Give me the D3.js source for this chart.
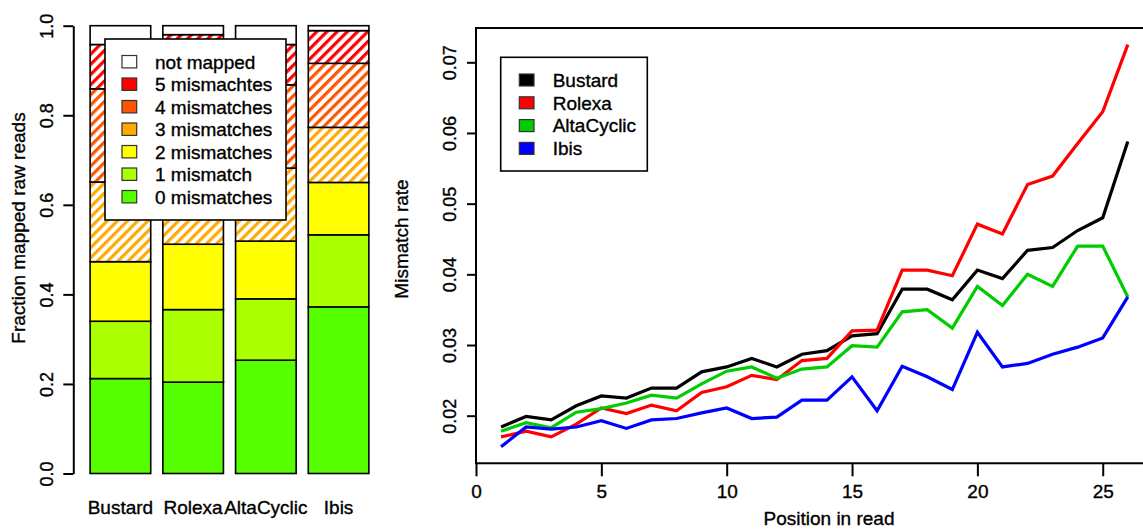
<!DOCTYPE html>
<html>
<head>
<meta charset="utf-8">
<script src="https://cdn.jsdelivr.net/npm/d3@7"></script>
<style>
  body { margin: 0; background: #fff; }
  svg { display: block; font-family: "Liberation Sans", Arial, Helvetica, sans-serif; }
  svg text { stroke: #000; stroke-width: 0.35px; fill: #000; }
</style>
</head>
<body>
<script>
// ---------- Data: left chart (stacked fractions) ----------
const categories = ["Bustard", "Rolexa", "AltaCyclic", "Ibis"];
const segmentKeys = ["m0", "m1", "m2", "m3", "m4", "m5", "nm"];
const segmentLabels = ["0 mismatches", "1 mismatch", "2 mismatches", "3 mismatches", "4 mismatches", "5 mismachtes", "not mapped"];
const segmentColors = ["#55FF00", "#AAFF00", "#FFFF00", "#FFAA00", "#FF5500", "#FF0000", "#FFFFFF"];
const segmentHatched = [false, false, false, true, true, true, false];
const mm0 = [0.212, 0.204, 0.253, 0.372];
const mm1 = [0.128, 0.162, 0.137, 0.161];
const mm2 = [0.133, 0.146, 0.129, 0.117];
const mm3 = [0.178, 0.150, 0.163, 0.123];
const mm4 = [0.208, 0.210, 0.186, 0.143];
const mm5 = [0.099, 0.108, 0.090, 0.073];
const notMapped = [0.042, 0.020, 0.042, 0.011];
const leftTicks = [0, 0.2, 0.4, 0.6, 0.8, 1.0];

// ---------- Data: right chart (mismatch rate by position) ----------
const positions = [1,2,3,4,5,6,7,8,9,10,11,12,13,14,15,16,17,18,19,20,21,22,23,24,25,26];
const seriesNames = ["Bustard", "Rolexa", "AltaCyclic", "Ibis"];
const seriesColors = ["#000000", "#FF0000", "#00CD00", "#0000FF"];
const bustard = [0.0184,0.0199,0.0194,0.0214,0.0228,0.0225,0.0239,0.0239,0.0262,0.0269,0.0281,0.0269,0.0287,0.0292,0.0313,0.0316,0.0379,0.0379,0.0364,0.0406,0.0394,0.0434,0.0438,0.0462,0.0480,0.0588];
const rolexa = [0.0170,0.0178,0.0170,0.0188,0.0211,0.0203,0.0215,0.0207,0.0233,0.0241,0.0257,0.0251,0.0278,0.0281,0.0320,0.0321,0.0406,0.0406,0.0398,0.0471,0.0457,0.0527,0.0539,0.0585,0.0630,0.0725];
const altaCyclic = [0.0178,0.0190,0.0183,0.0205,0.0210,0.0218,0.0229,0.0225,0.0245,0.0263,0.0269,0.0253,0.0266,0.0269,0.0299,0.0297,0.0347,0.0350,0.0324,0.0383,0.0356,0.0400,0.0383,0.0440,0.0440,0.0368];
const ibis = [0.0156,0.0184,0.0181,0.0184,0.0193,0.0182,0.0194,0.0196,0.0204,0.0211,0.0196,0.0198,0.0222,0.0222,0.0255,0.0207,0.0270,0.0255,0.0237,0.0318,0.0269,0.0274,0.0287,0.0297,0.0310,0.0368];
const xTicksR = [0, 5, 10, 15, 20, 25];
const yTicksR = [0.02, 0.03, 0.04, 0.05, 0.06, 0.07];

// ---------- Setup ----------
const W = 1143, H = 529;
const FS = 19, FT = 18;
const svg = d3.select("body").append("svg").attr("width", W).attr("height", H);
svg.append("rect").attr("width", W).attr("height", H).attr("fill", "#fff");

const defs = svg.append("defs");
segmentKeys.forEach((k, i) => {
  if (!segmentHatched[i]) return;
  const p = defs.append("pattern").attr("id", "hatch-" + k)
    .attr("patternUnits", "userSpaceOnUse").attr("width", 7.2).attr("height", 7.2)
    .attr("patternTransform", "rotate(45)");
  p.append("rect").attr("width", 7.2).attr("height", 7.2).attr("fill", "#fff");
  p.append("rect").attr("width", 3.2).attr("height", 7.2).attr("fill", segmentColors[i]);
});

// ---------- Left chart ----------
const yL = d3.scaleLinear().domain([0, 1]).range([473.5, 25.7]);
const xL = d3.scaleBand().domain(categories).range([78, 381]).paddingInner(1 / 6).paddingOuter(1 / 6);

const rows = categories.map((c, i) => ({
  cat: c, m0: mm0[i], m1: mm1[i], m2: mm2[i], m3: mm3[i], m4: mm4[i], m5: mm5[i], nm: notMapped[i]
}));
const stacked = d3.stack().keys(segmentKeys)(rows);

const gBars = svg.append("g");
stacked.forEach((layer, li) => {
  gBars.selectAll(null).data(layer).enter().append("rect")
    .attr("x", d => xL(d.data.cat))
    .attr("width", xL.bandwidth())
    .attr("y", d => yL(d[1]))
    .attr("height", d => yL(d[0]) - yL(d[1]))
    .attr("fill", segmentHatched[li] ? "url(#hatch-" + segmentKeys[li] + ")" : segmentColors[li])
    .attr("stroke", "#000").attr("stroke-width", 1.6);
});

// left y axis
const axL = svg.append("g").attr("transform", "translate(73.3,0)")
  .call(d3.axisLeft(yL).tickValues(leftTicks).tickFormat(d3.format(".1f")).tickSize(10).tickSizeOuter(0));
axL.select(".domain").attr("stroke-width", 2);
axL.selectAll(".tick line").attr("stroke-width", 2);
axL.selectAll(".tick text")
  .attr("x", null).attr("dy", null).attr("y", 0)
  .attr("font-size", FT).attr("font-family", null).attr("fill", "#000")
  .attr("text-anchor", "middle")
  .attr("transform", `translate(${46.7 - 73.3 + 0.358 * FT},0) rotate(-90)`);

// bar labels
svg.append("g").selectAll("text").data(categories).enter().append("text")
  .attr("x", d => xL(d) + xL.bandwidth() / 2)
  .attr("y", 506.7 + 0.358 * FS)
  .attr("text-anchor", "middle").attr("font-size", FS).text(d => d);

// left y title
svg.append("text")
  .attr("transform", `translate(${18.3 + 0.358 * FS},228) rotate(-90)`)
  .attr("text-anchor", "middle").attr("font-size", FS)
  .text("Fraction mapped raw reads");

// left legend
const lgL = svg.append("g");
lgL.append("rect").attr("x", 105).attr("y", 39).attr("width", 181).attr("height", 181)
  .attr("fill", "#fff").attr("stroke", "#000").attr("stroke-width", 1.6);
const legOrder = d3.range(segmentKeys.length - 1, -1, -1);
legOrder.forEach((si, r) => {
  const cy = 61.7 + r * 22.5;
  lgL.append("rect").attr("x", 122).attr("y", cy - 6.2).attr("width", 14.7).attr("height", 12.4)
    .attr("fill", segmentColors[si]).attr("stroke", "#333").attr("stroke-width", 1.2);
  lgL.append("text").attr("x", 155).attr("y", cy + 0.358 * FS).attr("font-size", FS)
    .text(segmentLabels[si]);
});

// ---------- Right chart ----------
const xR = d3.scaleLinear().domain([0, 26]).range([476, 1127.8]);
const yR = d3.scaleLinear().domain([0.02, 0.07]).range([415.7, 62.3]);

// frame
svg.append("rect")
  .attr("x", xR(0)).attr("y", yR(0.07485))
  .attr("width", xR(28.2) - xR(0)).attr("height", yR(0.01327) - yR(0.07485))
  .attr("fill", "none").attr("stroke", "#000").attr("stroke-width", 2);

// axes
const axB = svg.append("g").attr("transform", `translate(0,${yR(0.01327)})`)
  .call(d3.axisBottom(xR).tickValues(xTicksR).tickFormat(d3.format("d")).tickSize(13).tickSizeOuter(0));
axB.select(".domain").remove();
axB.selectAll(".tick line").attr("stroke-width", 2);
axB.selectAll(".tick text").attr("dy", null).attr("y", 491.7 - yR(0.01327) + 0.358 * FS)
  .attr("font-size", FS).attr("font-family", null).attr("fill", "#000");

const axY = svg.append("g").attr("transform", `translate(${xR(0)},0)`)
  .call(d3.axisLeft(yR).tickValues(yTicksR).tickFormat(d3.format(".2f")).tickSize(9).tickSizeOuter(0));
axY.select(".domain").remove();
axY.selectAll(".tick line").attr("stroke-width", 2);
axY.selectAll(".tick text")
  .attr("x", null).attr("dy", null).attr("y", 0)
  .attr("font-size", FT).attr("font-family", null).attr("fill", "#000")
  .attr("text-anchor", "middle")
  .attr("transform", `translate(${450 - xR(0) + 0.358 * FT},0) rotate(-90)`);

// titles
svg.append("text")
  .attr("transform", `translate(${401 + 0.358 * FS},239) rotate(-90)`)
  .attr("text-anchor", "middle").attr("font-size", FS).text("Mismatch rate");
svg.append("text").attr("x", 829).attr("y", 518.3 + 0.358 * FS)
  .attr("text-anchor", "middle").attr("font-size", FS).text("Position in read");

// lines
const seriesValues = [bustard, rolexa, altaCyclic, ibis];
const line = d3.line().x(d => xR(d[0])).y(d => yR(d[1]));
seriesValues.forEach((vals, i) => {
  svg.append("path")
    .datum(positions.map((p, j) => [p, vals[j]]))
    .attr("d", line).attr("fill", "none")
    .attr("stroke", seriesColors[i]).attr("stroke-width", 3.2)
    .attr("stroke-linejoin", "miter").attr("stroke-linecap", "butt");
});

// right legend
const lgR = svg.append("g");
lgR.append("rect").attr("x", 500.7).attr("y", 57.3).attr("width", 146.6).attr("height", 113.7)
  .attr("fill", "#fff").attr("stroke", "#000").attr("stroke-width", 1.6);
seriesNames.forEach((n, i) => {
  const cy = 80 + i * 22.8;
  lgR.append("rect").attr("x", 519.3).attr("y", cy - 6).attr("width", 14.7).attr("height", 12)
    .attr("fill", seriesColors[i]).attr("stroke", "#333").attr("stroke-width", 1.2);
  lgR.append("text").attr("x", 552.7).attr("y", cy + 0.358 * FS).attr("font-size", FS).text(n);
});
</script>
</body>
</html>
